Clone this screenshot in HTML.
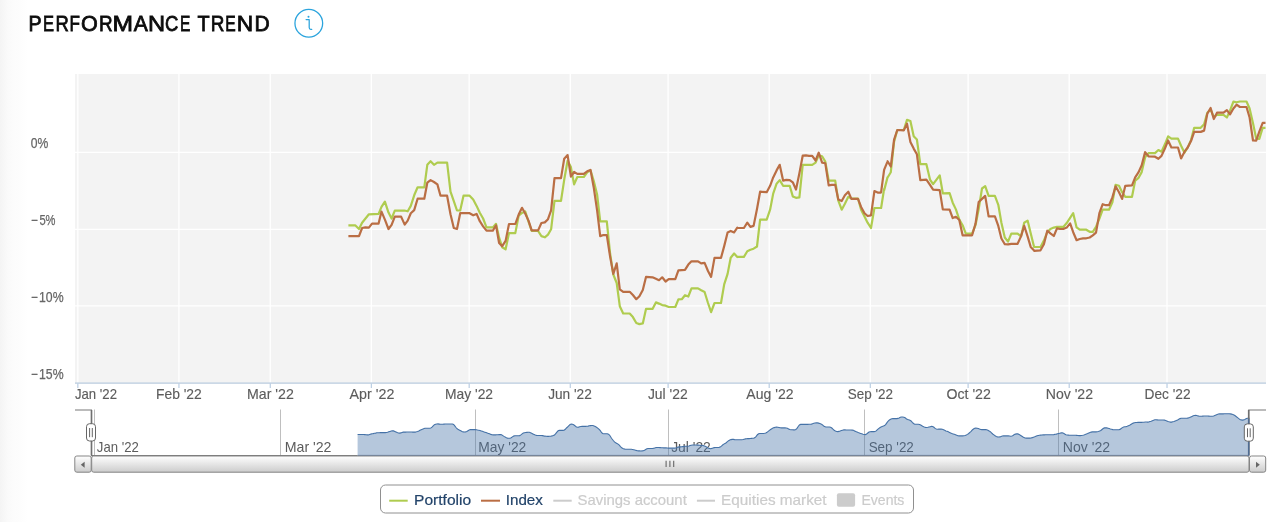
<!DOCTYPE html>
<html><head><meta charset="utf-8"><title>Performance trend</title>
<style>
html,body{margin:0;padding:0;background:#fff;}
body{width:1280px;height:522px;overflow:hidden;position:relative;font-family:"Liberation Sans",sans-serif;}
.strip{position:absolute;left:0;top:0;width:30px;height:522px;background:linear-gradient(to right,#f4f4f4 0,#f7f7f7 4px,#fafafa 8px,#fcfcfc 14px,#fdfdfd 20px,#fff 28px);}
h1{position:absolute;left:29px;top:9px;margin:0;font-size:22.5px;line-height:30px;font-weight:bold;color:#111;letter-spacing:-0.2px;white-space:nowrap;}
svg{position:absolute;left:0;top:0;will-change:transform;}
svg text{font-family:"Liberation Sans",sans-serif;}
</style></head><body>
<div class="strip"></div>
<svg width="1280" height="522" viewBox="0 0 1280 522">
<defs><clipPath id="pc"><rect x="75" y="74" width="1191" height="309"/></clipPath>
<linearGradient id="bg" x1="0" y1="0" x2="0" y2="1"><stop offset="0" stop-color="#fff"/><stop offset="1" stop-color="#ccc"/></linearGradient>
<linearGradient id="tr" x1="0" y1="0" x2="0" y2="1"><stop offset="0" stop-color="#eee"/><stop offset="1" stop-color="#fff"/></linearGradient>
</defs>
<g font-size="22" fill="#0c0c0c" stroke="#0c0c0c" stroke-width="0.8"><text x="28.49" y="31.4" textLength="13.10" lengthAdjust="spacingAndGlyphs">P</text><text x="42.96" y="31.4" textLength="11.00" lengthAdjust="spacingAndGlyphs">E</text><text x="55.49" y="31.4" textLength="13.32" lengthAdjust="spacingAndGlyphs">R</text><text x="69.41" y="31.4" textLength="10.42" lengthAdjust="spacingAndGlyphs">F</text><text x="80.96" y="31.4" textLength="16.77" lengthAdjust="spacingAndGlyphs">O</text><text x="98.90" y="31.4" textLength="13.62" lengthAdjust="spacingAndGlyphs">R</text><text x="112.43" y="31.4" textLength="20.55" lengthAdjust="spacingAndGlyphs">M</text><text x="133.71" y="31.4" textLength="14.08" lengthAdjust="spacingAndGlyphs">A</text><text x="147.91" y="31.4" textLength="17.07" lengthAdjust="spacingAndGlyphs">N</text><text x="165.11" y="31.4" textLength="13.34" lengthAdjust="spacingAndGlyphs">C</text><text x="179.98" y="31.4" textLength="10.34" lengthAdjust="spacingAndGlyphs">E</text><text x="197.61" y="31.4" textLength="12.10" lengthAdjust="spacingAndGlyphs">T</text><text x="210.70" y="31.4" textLength="13.62" lengthAdjust="spacingAndGlyphs">R</text><text x="225.16" y="31.4" textLength="10.46" lengthAdjust="spacingAndGlyphs">E</text><text x="236.78" y="31.4" textLength="16.42" lengthAdjust="spacingAndGlyphs">N</text><text x="254.42" y="31.4" textLength="15.24" lengthAdjust="spacingAndGlyphs">D</text></g>
<!-- info icon -->
<circle cx="308.8" cy="23.25" r="13.85" fill="#fff" stroke="#2ba4dd" stroke-width="1.3"/>
<path d="M306.1 19.5H309.2V27.6Q309.2 29.4 310.7 29.4H311.7" fill="none" stroke="#2ba4dd" stroke-width="1.25" stroke-linecap="round" stroke-linejoin="round"/>
<circle cx="308.5" cy="16.7" r="1.0" fill="#2ba4dd"/>
<!-- plot -->
<rect x="75" y="74" width="1191" height="309" fill="#f3f3f3"/>
<path d="M77.85 74V383" stroke="#fff" stroke-width="1.35"/><path d="M178.94 74V383" stroke="#fff" stroke-width="1.35"/><path d="M270.25 74V383" stroke="#fff" stroke-width="1.35"/><path d="M371.34 74V383" stroke="#fff" stroke-width="1.35"/><path d="M469.17 74V383" stroke="#fff" stroke-width="1.35"/><path d="M570.26 74V383" stroke="#fff" stroke-width="1.35"/><path d="M668.09 74V383" stroke="#fff" stroke-width="1.35"/><path d="M769.18 74V383" stroke="#fff" stroke-width="1.35"/><path d="M870.27 74V383" stroke="#fff" stroke-width="1.35"/><path d="M968.10 74V383" stroke="#fff" stroke-width="1.35"/><path d="M1069.19 74V383" stroke="#fff" stroke-width="1.35"/><path d="M1167.02 74V383" stroke="#fff" stroke-width="1.35"/>
<path d="M75 152.3H1266" stroke="#fff" stroke-width="1.3"/><path d="M75 229.3H1266" stroke="#fff" stroke-width="1.3"/><path d="M75 305.8H1266" stroke="#fff" stroke-width="1.3"/>
<path d="M75 383.1H1266" stroke="#cbd8e6" stroke-width="1.7"/>
<path d="M77.85 383.5V388" stroke="#b4c9e0" stroke-width="1.1"/><path d="M178.94 383.5V388" stroke="#b4c9e0" stroke-width="1.1"/><path d="M270.25 383.5V388" stroke="#b4c9e0" stroke-width="1.1"/><path d="M371.34 383.5V388" stroke="#b4c9e0" stroke-width="1.1"/><path d="M469.17 383.5V388" stroke="#b4c9e0" stroke-width="1.1"/><path d="M570.26 383.5V388" stroke="#b4c9e0" stroke-width="1.1"/><path d="M668.09 383.5V388" stroke="#b4c9e0" stroke-width="1.1"/><path d="M769.18 383.5V388" stroke="#b4c9e0" stroke-width="1.1"/><path d="M870.27 383.5V388" stroke="#b4c9e0" stroke-width="1.1"/><path d="M968.10 383.5V388" stroke="#b4c9e0" stroke-width="1.1"/><path d="M1069.19 383.5V388" stroke="#b4c9e0" stroke-width="1.1"/><path d="M1167.02 383.5V388" stroke="#b4c9e0" stroke-width="1.1"/>
<g font-size="14" fill="#666" stroke="#666" stroke-width="0.25"><text x="30.75" y="148.2" textLength="17.55" lengthAdjust="spacingAndGlyphs">0%</text><text x="30.9" y="225.2" textLength="6.8" lengthAdjust="spacingAndGlyphs">−</text><text x="39.40" y="225.2" textLength="16.10" lengthAdjust="spacingAndGlyphs">5%</text><text x="30.9" y="302.3" textLength="6.8" lengthAdjust="spacingAndGlyphs">−</text><text x="39.00" y="302.3" textLength="24.55" lengthAdjust="spacingAndGlyphs">10%</text><text x="30.9" y="379.2" textLength="6.8" lengthAdjust="spacingAndGlyphs">−</text><text x="39.00" y="379.2" textLength="24.55" lengthAdjust="spacingAndGlyphs">15%</text></g>
<g font-size="14.8" fill="#5c5c5c" stroke="#5c5c5c" stroke-width="0.15"><text x="74.94" y="399.0" textLength="42.07" lengthAdjust="spacingAndGlyphs">Jan '22</text><text x="156.01" y="399.0" textLength="45.78" lengthAdjust="spacingAndGlyphs">Feb '22</text><text x="246.99" y="399.0" textLength="46.83" lengthAdjust="spacingAndGlyphs">Mar '22</text><text x="349.62" y="399.0" textLength="44.69" lengthAdjust="spacingAndGlyphs">Apr '22</text><text x="445.01" y="399.0" textLength="48.03" lengthAdjust="spacingAndGlyphs">May '22</text><text x="548.19" y="399.0" textLength="43.60" lengthAdjust="spacingAndGlyphs">Jun '22</text><text x="647.93" y="399.0" textLength="39.72" lengthAdjust="spacingAndGlyphs">Jul '22</text><text x="746.37" y="399.0" textLength="47.18" lengthAdjust="spacingAndGlyphs">Aug '22</text><text x="847.79" y="399.0" textLength="45.24" lengthAdjust="spacingAndGlyphs">Sep '22</text><text x="946.48" y="399.0" textLength="44.33" lengthAdjust="spacingAndGlyphs">Oct '22</text><text x="1045.74" y="399.0" textLength="47.31" lengthAdjust="spacingAndGlyphs">Nov '22</text><text x="1144.53" y="399.0" textLength="46.01" lengthAdjust="spacingAndGlyphs">Dec '22</text></g>
<g clip-path="url(#pc)"><path d="M348.4 225.3 L355.2 225.3 L359.0 229.0 L362.1 222.7 L368.9 214.3 L378.6 213.9 L381.5 206.9 L384.9 201.6 L388.5 212.6 L391.6 218.5 L394.8 210.7 L404.3 210.5 L407.7 211.3 L410.8 205.9 L414.2 195.3 L417.6 187.3 L424.3 187.3 L427.3 164.8 L430.6 161.2 L434.0 164.8 L437.4 162.6 L447.1 162.6 L450.5 191.7 L453.8 201.2 L457.0 210.5 L460.2 210.5 L463.5 195.7 L469.6 195.7 L473.2 199.5 L476.6 205.9 L479.8 212.8 L483.1 218.5 L486.5 227.4 L492.8 227.4 L496.0 223.8 L499.1 237.7 L502.2 247.2 L505.6 249.3 L509.0 233.1 L515.3 233.1 L518.7 215.6 L522.0 212.9 L525.2 211.4 L528.6 221.9 L531.7 231.0 L538.1 231.0 L541.4 236.1 L544.8 237.3 L548.0 234.6 L551.1 229.3 L554.5 200.9 L561.0 200.9 L564.2 179.8 L567.6 160.8 L570.9 167.1 L574.1 184.4 L577.3 177.0 L583.8 177.0 L587.2 172.4 L590.5 170.3 L593.7 180.8 L597.1 194.5 L600.2 221.3 L606.8 221.3 L610.1 253.5 L613.3 274.5 L616.7 283.0 L619.8 306.2 L623.2 313.5 L629.7 313.5 L632.9 317.1 L636.3 323.0 L639.4 324.1 L642.8 323.4 L646.0 308.9 L652.5 308.9 L655.9 302.4 L659.0 303.6 L662.2 305.1 L665.6 305.7 L668.7 307.0 L675.3 307.0 L678.4 299.4 L681.8 299.2 L685.0 295.2 L688.3 296.5 L691.5 288.4 L698.0 288.4 L701.2 290.3 L704.6 292.0 L708.0 303.0 L711.1 312.1 L714.5 303.0 L721.0 303.0 L724.2 284.4 L727.6 273.9 L730.7 257.7 L734.1 253.5 L737.3 257.0 L737.4 256.9 L743.9 256.9 L747.3 251.2 L750.4 249.7 L753.6 248.7 L757.0 246.5 L760.1 219.6 L766.7 219.6 L770.1 209.7 L773.2 193.6 L776.6 183.7 L779.7 180.1 L783.1 185.8 L789.7 185.8 L792.8 196.4 L796.0 197.8 L799.4 197.4 L802.7 164.8 L812.2 164.8 L815.6 162.6 L818.7 155.3 L822.1 156.3 L825.3 161.6 L828.7 180.6 L835.2 180.6 L838.3 200.6 L841.7 209.7 L844.9 203.8 L848.3 196.8 L851.4 198.5 L858.0 198.5 L861.1 209.7 L864.5 216.4 L867.6 222.7 L871.0 228.0 L874.4 208.0 L880.9 208.0 L881.1 208.0 L884.1 189.0 L884.2 190.1 L887.5 177.4 L887.6 177.5 L890.8 172.2 L894.1 141.6 L897.3 130.0 L903.8 130.0 L907.0 119.9 L910.4 121.0 L913.7 136.3 L916.9 139.5 L920.3 164.2 L926.4 164.2 L930.0 179.6 L933.1 184.2 L936.5 179.6 L939.7 175.3 L942.8 193.3 L949.6 193.2 L952.7 202.7 L955.9 209.4 L959.3 219.5 L962.6 225.2 L965.8 233.7 L972.1 233.7 L975.5 225.2 L978.7 209.0 L982.0 188.5 L985.2 186.2 L988.6 195.9 L994.9 195.9 L998.3 204.8 L1001.4 222.7 L1004.8 237.5 L1008.0 241.7 L1011.3 233.7 L1017.6 233.7 L1021.0 236.4 L1024.2 222.7 L1027.6 220.6 L1030.7 233.2 L1034.1 246.9 L1034.2 247.0 L1040.5 247.0 L1043.9 240.6 L1047.3 232.2 L1050.4 229.0 L1053.8 227.6 L1057.0 226.9 L1063.3 226.9 L1066.7 223.1 L1070.1 217.9 L1073.2 213.2 L1076.6 227.4 L1079.7 229.7 L1086.3 229.7 L1089.7 231.8 L1092.8 231.8 L1096.0 226.9 L1099.4 218.5 L1102.7 209.7 L1109.0 209.7 L1112.4 202.3 L1115.6 184.8 L1119.0 185.8 L1122.1 192.2 L1125.3 196.8 L1132.0 196.8 L1135.2 180.6 L1138.6 177.8 L1141.7 172.1 L1145.1 157.4 L1148.5 153.1 L1155.0 153.1 L1158.4 150.0 L1161.5 151.7 L1164.9 144.3 L1168.1 136.3 L1171.4 138.6 L1178.0 138.6 L1181.1 145.8 L1184.5 152.7 L1187.7 147.5 L1191.0 140.1 L1194.2 127.8 L1200.7 127.8 L1204.1 124.3 L1207.3 112.7 L1210.6 109.5 L1213.8 116.9 L1217.0 114.8 L1223.5 114.8 L1226.9 117.5 L1230.0 110.6 L1233.4 101.7 L1236.6 102.3 L1239.9 101.5 L1246.5 101.5 L1249.6 108.5 L1253.0 123.2 L1256.2 138.6 L1259.3 139.0 L1262.7 127.8 L1265.5 127.8" fill="none" stroke="#afcc4f" stroke-width="2.2" stroke-linejoin="round" stroke-linecap="butt"/>
<path d="M348.4 236.2 L359.0 236.2 L362.1 228.0 L365.3 227.4 L368.9 227.6 L372.0 223.6 L378.6 223.6 L381.5 211.6 L384.9 219.6 L388.5 229.0 L391.6 224.8 L394.8 216.6 L401.1 216.6 L404.7 224.6 L407.7 220.6 L410.8 213.2 L414.2 210.1 L417.6 198.7 L424.3 198.7 L427.3 182.7 L430.6 180.1 L434.0 182.0 L437.4 184.4 L440.5 195.7 L447.1 195.7 L450.5 214.3 L453.8 228.0 L457.0 229.0 L460.2 213.2 L469.6 213.2 L473.2 215.3 L476.6 213.9 L479.8 221.2 L483.1 226.3 L486.5 230.7 L492.8 230.7 L496.0 225.3 L499.1 243.0 L502.2 246.2 L505.6 240.9 L509.0 224.0 L515.3 224.0 L518.7 214.6 L522.0 207.8 L525.2 213.5 L528.6 220.9 L531.7 230.4 L538.1 230.4 L541.4 223.0 L544.8 222.4 L548.0 219.2 L551.1 210.3 L554.5 178.1 L561.0 178.1 L564.2 158.7 L567.6 155.1 L570.9 176.6 L574.1 172.0 L577.3 173.9 L583.8 173.9 L587.2 171.3 L590.5 169.9 L593.7 187.2 L597.1 210.3 L600.2 236.1 L603.4 235.0 L606.8 235.2 L610.1 256.6 L613.3 273.9 L616.7 263.4 L619.8 289.3 L623.2 291.8 L629.7 291.8 L632.9 295.0 L636.3 299.2 L639.4 296.2 L642.8 289.9 L646.0 276.9 L652.5 277.3 L655.9 278.8 L659.0 280.2 L662.2 277.3 L665.6 281.5 L668.7 279.2 L675.3 279.2 L678.4 270.3 L685.0 269.9 L688.3 264.6 L691.5 261.3 L698.0 261.3 L701.2 263.4 L704.6 262.9 L708.0 271.0 L711.1 276.9 L714.5 257.9 L721.0 257.9 L724.2 246.1 L727.6 232.4 L730.7 230.9 L734.1 232.4 L737.3 227.7 L737.4 228.0 L743.9 228.0 L747.3 222.7 L750.4 226.9 L753.6 225.9 L757.0 209.0 L760.1 191.7 L766.7 192.2 L770.1 185.8 L773.2 177.4 L776.6 170.4 L779.7 164.8 L783.1 180.6 L786.3 179.9 L789.7 180.1 L792.8 182.3 L796.0 189.6 L799.4 173.2 L802.7 155.7 L805.9 155.3 L809.0 155.9 L812.2 155.9 L815.6 160.5 L818.7 152.7 L822.1 162.6 L825.3 163.3 L828.7 185.4 L831.8 184.8 L835.2 184.8 L838.3 199.5 L841.7 201.0 L844.9 195.3 L848.3 191.7 L851.4 198.9 L858.0 198.9 L861.1 206.9 L864.5 213.2 L867.6 216.0 L871.0 215.3 L874.4 191.1 L877.6 192.6 L880.9 192.6 L881.1 192.2 L884.1 170.0 L884.2 169.7 L887.5 161.6 L887.6 161.2 L890.8 166.5 L894.1 139.5 L897.3 130.0 L903.8 130.4 L907.0 123.7 L910.4 142.0 L913.7 148.6 L916.9 154.3 L920.3 180.2 L923.4 179.8 L926.4 179.6 L930.0 184.8 L933.1 189.7 L939.7 190.1 L942.8 209.4 L949.6 209.6 L952.7 218.1 L955.9 216.8 L959.3 220.0 L962.6 235.3 L972.1 235.3 L975.5 223.8 L978.7 202.0 L982.0 198.9 L985.2 195.9 L988.6 216.4 L994.9 216.4 L998.3 225.9 L1001.4 238.5 L1004.8 244.2 L1008.0 244.4 L1011.3 243.8 L1017.6 243.8 L1021.0 236.4 L1024.2 225.9 L1027.6 236.4 L1030.7 246.9 L1034.1 250.5 L1034.2 250.8 L1040.5 250.3 L1043.9 244.2 L1047.3 230.7 L1050.4 233.3 L1053.8 236.0 L1057.0 228.4 L1060.1 229.0 L1063.3 229.0 L1066.7 227.6 L1070.1 223.4 L1073.2 232.2 L1076.6 240.2 L1079.7 239.0 L1083.1 238.3 L1086.3 238.3 L1089.7 237.5 L1092.8 235.4 L1096.0 232.6 L1099.4 213.2 L1102.7 204.2 L1105.9 205.2 L1109.0 205.2 L1112.4 197.4 L1115.6 186.3 L1119.0 192.2 L1122.1 198.9 L1125.3 185.8 L1132.0 185.4 L1135.2 177.4 L1138.6 172.1 L1141.7 165.2 L1145.1 152.1 L1148.5 156.3 L1155.0 156.7 L1158.4 158.8 L1161.5 155.9 L1164.9 148.5 L1168.1 140.5 L1171.4 147.5 L1178.0 147.5 L1181.1 158.4 L1184.5 151.7 L1187.7 147.5 L1191.0 141.1 L1194.2 131.9 L1200.7 131.9 L1204.1 130.6 L1207.3 113.7 L1210.6 108.0 L1213.8 119.0 L1217.0 112.7 L1223.5 112.7 L1226.9 110.1 L1230.0 114.4 L1233.4 108.5 L1236.6 104.7 L1239.9 107.0 L1246.5 107.0 L1249.6 117.5 L1253.0 140.5 L1256.2 140.7 L1259.3 131.6 L1262.7 122.8 L1265.5 122.8" fill="none" stroke="#ba6e44" stroke-width="2.2" stroke-linejoin="round" stroke-linecap="butt"/></g>
<!-- navigator -->
<path d="M94.5 409.5V455.5" stroke="#000" stroke-opacity="0.25" stroke-width="1"/><path d="M280.5 409.5V455.5" stroke="#000" stroke-opacity="0.25" stroke-width="1"/><path d="M475.5 409.5V455.5" stroke="#000" stroke-opacity="0.25" stroke-width="1"/><path d="M668.5 409.5V455.5" stroke="#000" stroke-opacity="0.25" stroke-width="1"/><path d="M864.5 409.5V455.5" stroke="#000" stroke-opacity="0.25" stroke-width="1"/><path d="M1058.5 409.5V455.5" stroke="#000" stroke-opacity="0.25" stroke-width="1"/>
<g font-size="14.6" fill="#5c5c5c"><text x="96.84" y="452.1" textLength="42.07" lengthAdjust="spacingAndGlyphs">Jan '22</text><text x="284.69" y="452.1" textLength="46.83" lengthAdjust="spacingAndGlyphs">Mar '22</text><text x="478.26" y="452.1" textLength="48.03" lengthAdjust="spacingAndGlyphs">May '22</text><text x="671.13" y="452.1" textLength="39.72" lengthAdjust="spacingAndGlyphs">Jul '22</text><text x="868.64" y="452.1" textLength="45.24" lengthAdjust="spacingAndGlyphs">Sep '22</text><text x="1062.79" y="452.1" textLength="47.31" lengthAdjust="spacingAndGlyphs">Nov '22</text></g>
<path d="M357.6 434.5 L358.8 434.5 L360.0 434.5 L361.2 434.5 L362.4 434.5 L363.6 434.5 L364.8 434.6 L366.0 434.8 L367.2 434.9 L368.4 434.9 L369.6 434.5 L370.8 434.1 L372.0 433.8 L373.2 433.6 L374.4 433.3 L375.6 433.1 L376.8 432.8 L378.0 432.7 L379.2 432.7 L380.4 432.6 L381.6 432.6 L382.8 432.6 L384.0 432.6 L385.2 432.6 L386.4 432.5 L387.6 432.3 L388.8 431.8 L390.0 431.4 L391.2 431.0 L392.4 430.8 L393.6 430.9 L394.8 431.4 L396.0 432.0 L397.2 432.6 L398.4 433.0 L399.6 433.1 L400.8 432.9 L402.0 432.4 L403.2 432.1 L404.4 432.1 L405.6 432.1 L406.8 432.0 L408.0 432.0 L409.2 432.0 L410.4 432.0 L411.6 432.0 L412.8 432.1 L414.0 432.1 L415.2 432.1 L416.4 431.8 L417.6 431.4 L418.8 430.9 L420.0 430.3 L421.2 429.7 L422.4 429.2 L423.6 428.7 L424.8 428.3 L426.0 428.2 L427.2 428.2 L428.4 428.2 L429.6 428.2 L430.8 428.0 L432.0 427.2 L433.2 425.8 L434.4 424.7 L435.6 424.2 L436.8 424.0 L438.0 423.9 L439.2 424.1 L440.4 424.3 L441.6 424.3 L442.8 424.2 L444.0 424.1 L445.2 424.0 L446.4 424.0 L447.6 424.0 L448.8 424.0 L450.0 424.0 L451.2 424.0 L452.4 424.0 L453.6 424.5 L454.8 425.9 L456.0 427.5 L457.2 428.8 L458.4 429.6 L459.6 430.2 L460.8 430.8 L462.0 431.4 L463.2 431.9 L464.4 432.0 L465.6 431.9 L466.8 431.5 L468.0 430.7 L469.2 430.0 L470.4 429.6 L471.6 429.6 L472.8 429.6 L474.0 429.6 L475.2 429.6 L476.4 429.7 L477.6 430.0 L478.8 430.2 L480.0 430.5 L481.2 430.9 L482.4 431.3 L483.6 431.8 L484.8 432.2 L486.0 432.6 L487.2 433.0 L488.4 433.4 L489.6 433.8 L490.8 434.4 L492.0 434.7 L493.2 434.9 L494.4 434.9 L495.6 434.9 L496.8 434.8 L498.0 434.8 L499.2 434.6 L500.4 434.5 L501.6 434.8 L502.8 435.6 L504.0 436.4 L505.2 437.1 L506.4 437.7 L507.6 438.1 L508.8 438.3 L510.0 438.3 L511.2 437.8 L512.4 436.9 L513.6 436.1 L514.8 435.8 L516.0 435.8 L517.3 435.8 L518.5 435.8 L519.7 435.6 L520.9 434.9 L522.1 433.9 L523.3 433.1 L524.5 432.7 L525.7 432.5 L526.9 432.4 L528.1 432.3 L529.3 432.3 L530.5 432.7 L531.7 433.3 L532.9 433.9 L534.1 434.5 L535.3 435.1 L536.5 435.4 L537.7 435.5 L538.9 435.5 L540.1 435.5 L541.3 435.5 L542.5 435.6 L543.7 435.9 L544.9 436.1 L546.1 436.3 L547.3 436.4 L548.5 436.4 L549.7 436.3 L550.9 436.2 L552.1 435.9 L553.3 435.6 L554.5 435.0 L555.7 433.7 L556.9 432.1 L558.1 430.8 L559.3 430.4 L560.5 430.4 L561.7 430.4 L562.9 430.4 L564.1 430.2 L565.3 429.3 L566.5 428.0 L567.7 426.8 L568.9 425.6 L570.1 424.6 L571.3 424.1 L572.5 424.3 L573.7 424.8 L574.9 425.7 L576.1 426.7 L577.3 427.3 L578.5 427.1 L579.7 426.7 L580.9 426.5 L582.1 426.4 L583.3 426.4 L584.5 426.4 L585.7 426.4 L586.9 426.3 L588.1 426.1 L589.3 425.8 L590.5 425.6 L591.7 425.5 L592.9 425.5 L594.1 425.9 L595.3 426.6 L596.5 427.3 L597.7 428.1 L598.9 429.1 L600.1 430.4 L601.3 432.1 L602.5 433.4 L603.7 433.8 L604.9 433.8 L606.1 433.8 L607.3 433.8 L608.5 434.2 L609.7 435.3 L610.9 437.2 L612.1 439.0 L613.3 440.5 L614.5 441.8 L615.7 442.8 L616.9 443.4 L618.1 444.1 L619.3 445.2 L620.5 446.6 L621.7 447.8 L622.9 448.5 L624.1 448.9 L625.3 449.2 L626.5 449.2 L627.7 449.2 L628.9 449.2 L630.1 449.2 L631.3 449.3 L632.5 449.5 L633.7 449.7 L634.9 450.0 L636.1 450.4 L637.3 450.7 L638.5 450.9 L639.7 450.9 L640.9 451.0 L642.1 450.9 L643.3 450.8 L644.5 450.3 L645.7 449.5 L646.9 448.8 L648.1 448.5 L649.3 448.5 L650.5 448.5 L651.7 448.5 L652.9 448.4 L654.1 448.2 L655.3 447.8 L656.5 447.5 L657.7 447.5 L658.9 447.5 L660.1 447.6 L661.3 447.7 L662.5 447.8 L663.7 447.9 L664.9 447.9 L666.1 447.9 L667.3 448.0 L668.5 448.1 L669.7 448.1 L670.9 448.1 L672.1 448.1 L673.3 448.1 L674.5 448.1 L675.7 448.0 L676.9 447.6 L678.1 447.1 L679.3 446.9 L680.5 446.9 L681.7 446.8 L682.9 446.6 L684.1 446.4 L685.3 446.3 L686.5 446.3 L687.7 446.3 L688.9 446.0 L690.1 445.5 L691.3 445.2 L692.5 445.0 L693.7 445.0 L694.9 445.0 L696.1 445.0 L697.3 445.1 L698.5 445.1 L699.7 445.3 L700.9 445.4 L702.1 445.5 L703.3 445.6 L704.5 446.0 L705.7 446.6 L707.0 447.2 L708.2 447.9 L709.4 448.4 L710.6 448.7 L711.8 448.4 L713.0 447.9 L714.2 447.6 L715.4 447.5 L716.6 447.5 L717.8 447.5 L719.0 447.4 L720.2 447.1 L721.4 446.1 L722.6 445.0 L723.8 444.1 L725.0 443.4 L726.2 442.7 L727.4 441.7 L728.6 440.7 L729.8 440.0 L731.0 439.6 L732.2 439.4 L733.4 439.4 L734.6 439.6 L735.8 439.7 L737.0 439.8 L738.2 439.8 L739.4 439.8 L740.6 439.8 L741.8 439.7 L743.0 439.5 L744.2 439.2 L745.4 438.9 L746.6 438.8 L747.8 438.6 L749.0 438.6 L750.2 438.5 L751.4 438.4 L752.6 438.3 L753.8 438.2 L755.0 437.6 L756.2 436.3 L757.4 434.7 L758.6 433.8 L759.8 433.5 L761.0 433.5 L762.2 433.5 L763.4 433.5 L764.6 433.3 L765.8 432.9 L767.0 432.2 L768.2 431.4 L769.4 430.4 L770.6 429.5 L771.8 428.7 L773.0 428.1 L774.2 427.6 L775.4 427.3 L776.6 427.1 L777.8 427.2 L779.0 427.5 L780.2 427.8 L781.4 427.9 L782.6 427.9 L783.8 427.9 L785.0 427.9 L786.2 428.0 L787.4 428.3 L788.6 428.9 L789.8 429.5 L791.0 429.8 L792.2 429.8 L793.4 429.9 L794.6 429.9 L795.8 429.5 L797.0 428.4 L798.2 426.5 L799.4 425.0 L800.6 424.4 L801.8 424.4 L803.0 424.4 L804.2 424.4 L805.4 424.4 L806.6 424.4 L807.8 424.4 L809.0 424.3 L810.2 424.2 L811.4 424.1 L812.6 423.7 L813.8 423.3 L815.0 423.0 L816.2 422.9 L817.4 422.9 L818.6 423.1 L819.8 423.4 L821.0 423.9 L822.2 424.7 L823.4 425.7 L824.6 426.6 L825.8 427.0 L827.0 427.0 L828.2 427.0 L829.4 427.0 L830.6 427.2 L831.8 428.0 L833.0 429.2 L834.2 430.3 L835.4 431.0 L836.6 431.5 L837.8 431.6 L839.0 431.4 L840.2 431.0 L841.4 430.6 L842.6 430.2 L843.8 429.9 L845.0 429.9 L846.2 430.0 L847.4 430.0 L848.6 430.0 L849.8 430.0 L851.0 430.0 L852.2 430.1 L853.4 430.3 L854.6 430.9 L855.8 431.6 L857.0 432.1 L858.2 432.6 L859.4 433.0 L860.6 433.4 L861.8 433.8 L863.0 434.2 L864.2 434.5 L865.4 434.6 L866.6 434.1 L867.8 433.0 L869.0 432.0 L870.2 431.7 L871.4 431.6 L872.6 431.6 L873.8 431.6 L875.0 431.5 L876.2 430.9 L877.4 429.7 L878.6 428.6 L879.8 427.8 L881.0 427.1 L882.2 426.5 L883.4 426.1 L884.6 425.6 L885.8 424.4 L887.0 422.6 L888.2 421.0 L889.4 419.9 L890.6 419.2 L891.8 418.7 L893.0 418.6 L894.2 418.6 L895.4 418.6 L896.7 418.6 L897.9 418.4 L899.1 417.9 L900.3 417.3 L901.5 417.0 L902.7 417.0 L903.9 417.2 L905.1 417.8 L906.3 418.7 L907.5 419.5 L908.7 419.8 L909.9 420.2 L911.1 421.0 L912.3 422.3 L913.5 423.5 L914.7 424.2 L915.9 424.3 L917.1 424.3 L918.3 424.3 L919.5 424.5 L920.7 425.0 L921.9 425.8 L923.1 426.6 L924.3 427.1 L925.5 427.4 L926.7 427.5 L927.9 427.3 L929.1 427.0 L930.3 426.7 L931.5 426.4 L932.7 426.5 L933.9 427.3 L935.1 428.4 L936.3 429.0 L937.5 429.2 L938.7 429.1 L939.9 429.1 L941.1 429.1 L942.3 429.3 L943.5 429.7 L944.7 430.3 L945.9 430.9 L947.1 431.3 L948.3 431.8 L949.5 432.4 L950.7 433.0 L951.9 433.5 L953.1 433.9 L954.3 434.3 L955.5 434.7 L956.7 435.2 L957.9 435.7 L959.1 435.9 L960.3 435.9 L961.5 435.9 L962.7 435.9 L963.9 435.8 L965.1 435.5 L966.3 435.0 L967.5 434.4 L968.7 433.5 L969.9 432.4 L971.1 431.3 L972.3 430.0 L973.5 429.0 L974.7 428.3 L975.9 428.1 L977.1 428.2 L978.3 428.6 L979.5 429.1 L980.7 429.5 L981.9 429.6 L983.1 429.6 L984.3 429.6 L985.5 429.6 L986.7 429.8 L987.9 430.3 L989.1 430.9 L990.3 431.7 L991.5 432.8 L992.7 434.0 L993.9 434.9 L995.1 435.8 L996.3 436.5 L997.5 436.9 L998.7 437.0 L999.9 436.9 L1001.1 436.4 L1002.3 436.0 L1003.5 435.9 L1004.7 435.9 L1005.9 435.9 L1007.1 435.9 L1008.3 435.9 L1009.5 436.0 L1010.7 436.2 L1011.9 436.0 L1013.1 435.4 L1014.3 434.6 L1015.5 434.1 L1016.7 433.9 L1017.9 433.9 L1019.1 434.4 L1020.3 435.2 L1021.5 436.0 L1022.7 436.8 L1023.9 437.6 L1025.1 438.0 L1026.3 438.1 L1027.5 438.1 L1028.7 438.1 L1029.9 438.1 L1031.1 437.9 L1032.3 437.6 L1033.5 437.2 L1034.7 436.8 L1035.9 436.3 L1037.1 435.8 L1038.3 435.5 L1039.5 435.3 L1040.7 435.1 L1041.9 435.0 L1043.1 434.9 L1044.3 434.9 L1045.5 434.8 L1046.7 434.8 L1047.9 434.8 L1049.1 434.8 L1050.3 434.8 L1051.5 434.8 L1052.7 434.7 L1053.9 434.6 L1055.1 434.3 L1056.3 434.1 L1057.5 433.8 L1058.7 433.5 L1059.9 433.2 L1061.1 432.9 L1062.3 432.8 L1063.5 433.2 L1064.7 434.0 L1065.9 434.7 L1067.1 435.0 L1068.3 435.1 L1069.5 435.2 L1070.7 435.2 L1071.9 435.2 L1073.1 435.2 L1074.3 435.2 L1075.5 435.3 L1076.7 435.4 L1077.9 435.5 L1079.1 435.6 L1080.3 435.6 L1081.5 435.5 L1082.7 435.3 L1083.9 435.0 L1085.1 434.6 L1086.4 434.1 L1087.6 433.6 L1088.8 433.0 L1090.0 432.5 L1091.2 432.1 L1092.4 431.9 L1093.6 431.9 L1094.8 431.9 L1096.0 431.9 L1097.2 431.8 L1098.4 431.5 L1099.6 431.1 L1100.8 430.5 L1102.0 429.5 L1103.2 428.5 L1104.4 427.9 L1105.6 427.8 L1106.8 427.9 L1108.0 428.2 L1109.2 428.6 L1110.4 429.0 L1111.6 429.3 L1112.8 429.6 L1114.0 429.7 L1115.2 429.7 L1116.4 429.7 L1117.6 429.7 L1118.8 429.7 L1120.0 429.4 L1121.2 428.5 L1122.4 427.6 L1123.6 427.0 L1124.8 426.8 L1126.0 426.6 L1127.2 426.3 L1128.4 425.8 L1129.6 425.3 L1130.8 424.5 L1132.0 423.7 L1133.2 423.1 L1134.4 422.8 L1135.6 422.5 L1136.8 422.5 L1138.0 422.4 L1139.2 422.4 L1140.4 422.4 L1141.6 422.4 L1142.8 422.3 L1144.0 422.2 L1145.2 422.0 L1146.4 422.0 L1147.6 422.1 L1148.8 422.0 L1150.0 421.6 L1151.2 421.2 L1152.4 420.7 L1153.6 420.2 L1154.8 419.8 L1156.0 419.8 L1157.2 419.9 L1158.4 420.0 L1159.6 420.0 L1160.8 420.0 L1162.0 420.0 L1163.2 420.0 L1164.4 420.1 L1165.6 420.5 L1166.8 420.9 L1168.0 421.4 L1169.2 421.8 L1170.4 422.1 L1171.6 422.1 L1172.8 421.8 L1174.0 421.5 L1175.2 421.0 L1176.4 420.5 L1177.6 419.9 L1178.8 419.2 L1180.0 418.6 L1181.2 418.3 L1182.4 418.2 L1183.6 418.2 L1184.8 418.2 L1186.0 418.2 L1187.2 418.1 L1188.4 417.9 L1189.6 417.6 L1190.8 417.0 L1192.0 416.4 L1193.2 415.8 L1194.4 415.5 L1195.6 415.3 L1196.8 415.5 L1198.0 415.9 L1199.2 416.2 L1200.4 416.3 L1201.6 416.2 L1202.8 416.1 L1204.0 416.0 L1205.2 416.0 L1206.4 416.0 L1207.6 416.0 L1208.8 416.1 L1210.0 416.2 L1211.2 416.3 L1212.4 416.3 L1213.6 415.9 L1214.8 415.4 L1216.0 414.9 L1217.2 414.4 L1218.4 414.0 L1219.6 413.9 L1220.8 413.9 L1222.0 413.9 L1223.2 413.9 L1224.4 413.8 L1225.6 413.8 L1226.8 413.8 L1228.0 413.8 L1229.2 413.8 L1230.4 413.9 L1231.6 414.1 L1232.8 414.5 L1234.0 415.0 L1235.2 415.8 L1236.4 416.7 L1237.6 417.6 L1238.8 418.6 L1240.0 419.4 L1241.2 419.9 L1242.4 420.1 L1243.6 419.9 L1244.8 419.4 L1246.0 418.8 L1247.2 418.3 L1248.4 418.2 L1249.6 418.2 L1249.6 455.5 L357.6 455.5 Z" fill="#4572a7" fill-opacity="0.4"/>
<path d="M357.6 434.5 L358.8 434.5 L360.0 434.5 L361.2 434.5 L362.4 434.5 L363.6 434.5 L364.8 434.6 L366.0 434.8 L367.2 434.9 L368.4 434.9 L369.6 434.5 L370.8 434.1 L372.0 433.8 L373.2 433.6 L374.4 433.3 L375.6 433.1 L376.8 432.8 L378.0 432.7 L379.2 432.7 L380.4 432.6 L381.6 432.6 L382.8 432.6 L384.0 432.6 L385.2 432.6 L386.4 432.5 L387.6 432.3 L388.8 431.8 L390.0 431.4 L391.2 431.0 L392.4 430.8 L393.6 430.9 L394.8 431.4 L396.0 432.0 L397.2 432.6 L398.4 433.0 L399.6 433.1 L400.8 432.9 L402.0 432.4 L403.2 432.1 L404.4 432.1 L405.6 432.1 L406.8 432.0 L408.0 432.0 L409.2 432.0 L410.4 432.0 L411.6 432.0 L412.8 432.1 L414.0 432.1 L415.2 432.1 L416.4 431.8 L417.6 431.4 L418.8 430.9 L420.0 430.3 L421.2 429.7 L422.4 429.2 L423.6 428.7 L424.8 428.3 L426.0 428.2 L427.2 428.2 L428.4 428.2 L429.6 428.2 L430.8 428.0 L432.0 427.2 L433.2 425.8 L434.4 424.7 L435.6 424.2 L436.8 424.0 L438.0 423.9 L439.2 424.1 L440.4 424.3 L441.6 424.3 L442.8 424.2 L444.0 424.1 L445.2 424.0 L446.4 424.0 L447.6 424.0 L448.8 424.0 L450.0 424.0 L451.2 424.0 L452.4 424.0 L453.6 424.5 L454.8 425.9 L456.0 427.5 L457.2 428.8 L458.4 429.6 L459.6 430.2 L460.8 430.8 L462.0 431.4 L463.2 431.9 L464.4 432.0 L465.6 431.9 L466.8 431.5 L468.0 430.7 L469.2 430.0 L470.4 429.6 L471.6 429.6 L472.8 429.6 L474.0 429.6 L475.2 429.6 L476.4 429.7 L477.6 430.0 L478.8 430.2 L480.0 430.5 L481.2 430.9 L482.4 431.3 L483.6 431.8 L484.8 432.2 L486.0 432.6 L487.2 433.0 L488.4 433.4 L489.6 433.8 L490.8 434.4 L492.0 434.7 L493.2 434.9 L494.4 434.9 L495.6 434.9 L496.8 434.8 L498.0 434.8 L499.2 434.6 L500.4 434.5 L501.6 434.8 L502.8 435.6 L504.0 436.4 L505.2 437.1 L506.4 437.7 L507.6 438.1 L508.8 438.3 L510.0 438.3 L511.2 437.8 L512.4 436.9 L513.6 436.1 L514.8 435.8 L516.0 435.8 L517.3 435.8 L518.5 435.8 L519.7 435.6 L520.9 434.9 L522.1 433.9 L523.3 433.1 L524.5 432.7 L525.7 432.5 L526.9 432.4 L528.1 432.3 L529.3 432.3 L530.5 432.7 L531.7 433.3 L532.9 433.9 L534.1 434.5 L535.3 435.1 L536.5 435.4 L537.7 435.5 L538.9 435.5 L540.1 435.5 L541.3 435.5 L542.5 435.6 L543.7 435.9 L544.9 436.1 L546.1 436.3 L547.3 436.4 L548.5 436.4 L549.7 436.3 L550.9 436.2 L552.1 435.9 L553.3 435.6 L554.5 435.0 L555.7 433.7 L556.9 432.1 L558.1 430.8 L559.3 430.4 L560.5 430.4 L561.7 430.4 L562.9 430.4 L564.1 430.2 L565.3 429.3 L566.5 428.0 L567.7 426.8 L568.9 425.6 L570.1 424.6 L571.3 424.1 L572.5 424.3 L573.7 424.8 L574.9 425.7 L576.1 426.7 L577.3 427.3 L578.5 427.1 L579.7 426.7 L580.9 426.5 L582.1 426.4 L583.3 426.4 L584.5 426.4 L585.7 426.4 L586.9 426.3 L588.1 426.1 L589.3 425.8 L590.5 425.6 L591.7 425.5 L592.9 425.5 L594.1 425.9 L595.3 426.6 L596.5 427.3 L597.7 428.1 L598.9 429.1 L600.1 430.4 L601.3 432.1 L602.5 433.4 L603.7 433.8 L604.9 433.8 L606.1 433.8 L607.3 433.8 L608.5 434.2 L609.7 435.3 L610.9 437.2 L612.1 439.0 L613.3 440.5 L614.5 441.8 L615.7 442.8 L616.9 443.4 L618.1 444.1 L619.3 445.2 L620.5 446.6 L621.7 447.8 L622.9 448.5 L624.1 448.9 L625.3 449.2 L626.5 449.2 L627.7 449.2 L628.9 449.2 L630.1 449.2 L631.3 449.3 L632.5 449.5 L633.7 449.7 L634.9 450.0 L636.1 450.4 L637.3 450.7 L638.5 450.9 L639.7 450.9 L640.9 451.0 L642.1 450.9 L643.3 450.8 L644.5 450.3 L645.7 449.5 L646.9 448.8 L648.1 448.5 L649.3 448.5 L650.5 448.5 L651.7 448.5 L652.9 448.4 L654.1 448.2 L655.3 447.8 L656.5 447.5 L657.7 447.5 L658.9 447.5 L660.1 447.6 L661.3 447.7 L662.5 447.8 L663.7 447.9 L664.9 447.9 L666.1 447.9 L667.3 448.0 L668.5 448.1 L669.7 448.1 L670.9 448.1 L672.1 448.1 L673.3 448.1 L674.5 448.1 L675.7 448.0 L676.9 447.6 L678.1 447.1 L679.3 446.9 L680.5 446.9 L681.7 446.8 L682.9 446.6 L684.1 446.4 L685.3 446.3 L686.5 446.3 L687.7 446.3 L688.9 446.0 L690.1 445.5 L691.3 445.2 L692.5 445.0 L693.7 445.0 L694.9 445.0 L696.1 445.0 L697.3 445.1 L698.5 445.1 L699.7 445.3 L700.9 445.4 L702.1 445.5 L703.3 445.6 L704.5 446.0 L705.7 446.6 L707.0 447.2 L708.2 447.9 L709.4 448.4 L710.6 448.7 L711.8 448.4 L713.0 447.9 L714.2 447.6 L715.4 447.5 L716.6 447.5 L717.8 447.5 L719.0 447.4 L720.2 447.1 L721.4 446.1 L722.6 445.0 L723.8 444.1 L725.0 443.4 L726.2 442.7 L727.4 441.7 L728.6 440.7 L729.8 440.0 L731.0 439.6 L732.2 439.4 L733.4 439.4 L734.6 439.6 L735.8 439.7 L737.0 439.8 L738.2 439.8 L739.4 439.8 L740.6 439.8 L741.8 439.7 L743.0 439.5 L744.2 439.2 L745.4 438.9 L746.6 438.8 L747.8 438.6 L749.0 438.6 L750.2 438.5 L751.4 438.4 L752.6 438.3 L753.8 438.2 L755.0 437.6 L756.2 436.3 L757.4 434.7 L758.6 433.8 L759.8 433.5 L761.0 433.5 L762.2 433.5 L763.4 433.5 L764.6 433.3 L765.8 432.9 L767.0 432.2 L768.2 431.4 L769.4 430.4 L770.6 429.5 L771.8 428.7 L773.0 428.1 L774.2 427.6 L775.4 427.3 L776.6 427.1 L777.8 427.2 L779.0 427.5 L780.2 427.8 L781.4 427.9 L782.6 427.9 L783.8 427.9 L785.0 427.9 L786.2 428.0 L787.4 428.3 L788.6 428.9 L789.8 429.5 L791.0 429.8 L792.2 429.8 L793.4 429.9 L794.6 429.9 L795.8 429.5 L797.0 428.4 L798.2 426.5 L799.4 425.0 L800.6 424.4 L801.8 424.4 L803.0 424.4 L804.2 424.4 L805.4 424.4 L806.6 424.4 L807.8 424.4 L809.0 424.3 L810.2 424.2 L811.4 424.1 L812.6 423.7 L813.8 423.3 L815.0 423.0 L816.2 422.9 L817.4 422.9 L818.6 423.1 L819.8 423.4 L821.0 423.9 L822.2 424.7 L823.4 425.7 L824.6 426.6 L825.8 427.0 L827.0 427.0 L828.2 427.0 L829.4 427.0 L830.6 427.2 L831.8 428.0 L833.0 429.2 L834.2 430.3 L835.4 431.0 L836.6 431.5 L837.8 431.6 L839.0 431.4 L840.2 431.0 L841.4 430.6 L842.6 430.2 L843.8 429.9 L845.0 429.9 L846.2 430.0 L847.4 430.0 L848.6 430.0 L849.8 430.0 L851.0 430.0 L852.2 430.1 L853.4 430.3 L854.6 430.9 L855.8 431.6 L857.0 432.1 L858.2 432.6 L859.4 433.0 L860.6 433.4 L861.8 433.8 L863.0 434.2 L864.2 434.5 L865.4 434.6 L866.6 434.1 L867.8 433.0 L869.0 432.0 L870.2 431.7 L871.4 431.6 L872.6 431.6 L873.8 431.6 L875.0 431.5 L876.2 430.9 L877.4 429.7 L878.6 428.6 L879.8 427.8 L881.0 427.1 L882.2 426.5 L883.4 426.1 L884.6 425.6 L885.8 424.4 L887.0 422.6 L888.2 421.0 L889.4 419.9 L890.6 419.2 L891.8 418.7 L893.0 418.6 L894.2 418.6 L895.4 418.6 L896.7 418.6 L897.9 418.4 L899.1 417.9 L900.3 417.3 L901.5 417.0 L902.7 417.0 L903.9 417.2 L905.1 417.8 L906.3 418.7 L907.5 419.5 L908.7 419.8 L909.9 420.2 L911.1 421.0 L912.3 422.3 L913.5 423.5 L914.7 424.2 L915.9 424.3 L917.1 424.3 L918.3 424.3 L919.5 424.5 L920.7 425.0 L921.9 425.8 L923.1 426.6 L924.3 427.1 L925.5 427.4 L926.7 427.5 L927.9 427.3 L929.1 427.0 L930.3 426.7 L931.5 426.4 L932.7 426.5 L933.9 427.3 L935.1 428.4 L936.3 429.0 L937.5 429.2 L938.7 429.1 L939.9 429.1 L941.1 429.1 L942.3 429.3 L943.5 429.7 L944.7 430.3 L945.9 430.9 L947.1 431.3 L948.3 431.8 L949.5 432.4 L950.7 433.0 L951.9 433.5 L953.1 433.9 L954.3 434.3 L955.5 434.7 L956.7 435.2 L957.9 435.7 L959.1 435.9 L960.3 435.9 L961.5 435.9 L962.7 435.9 L963.9 435.8 L965.1 435.5 L966.3 435.0 L967.5 434.4 L968.7 433.5 L969.9 432.4 L971.1 431.3 L972.3 430.0 L973.5 429.0 L974.7 428.3 L975.9 428.1 L977.1 428.2 L978.3 428.6 L979.5 429.1 L980.7 429.5 L981.9 429.6 L983.1 429.6 L984.3 429.6 L985.5 429.6 L986.7 429.8 L987.9 430.3 L989.1 430.9 L990.3 431.7 L991.5 432.8 L992.7 434.0 L993.9 434.9 L995.1 435.8 L996.3 436.5 L997.5 436.9 L998.7 437.0 L999.9 436.9 L1001.1 436.4 L1002.3 436.0 L1003.5 435.9 L1004.7 435.9 L1005.9 435.9 L1007.1 435.9 L1008.3 435.9 L1009.5 436.0 L1010.7 436.2 L1011.9 436.0 L1013.1 435.4 L1014.3 434.6 L1015.5 434.1 L1016.7 433.9 L1017.9 433.9 L1019.1 434.4 L1020.3 435.2 L1021.5 436.0 L1022.7 436.8 L1023.9 437.6 L1025.1 438.0 L1026.3 438.1 L1027.5 438.1 L1028.7 438.1 L1029.9 438.1 L1031.1 437.9 L1032.3 437.6 L1033.5 437.2 L1034.7 436.8 L1035.9 436.3 L1037.1 435.8 L1038.3 435.5 L1039.5 435.3 L1040.7 435.1 L1041.9 435.0 L1043.1 434.9 L1044.3 434.9 L1045.5 434.8 L1046.7 434.8 L1047.9 434.8 L1049.1 434.8 L1050.3 434.8 L1051.5 434.8 L1052.7 434.7 L1053.9 434.6 L1055.1 434.3 L1056.3 434.1 L1057.5 433.8 L1058.7 433.5 L1059.9 433.2 L1061.1 432.9 L1062.3 432.8 L1063.5 433.2 L1064.7 434.0 L1065.9 434.7 L1067.1 435.0 L1068.3 435.1 L1069.5 435.2 L1070.7 435.2 L1071.9 435.2 L1073.1 435.2 L1074.3 435.2 L1075.5 435.3 L1076.7 435.4 L1077.9 435.5 L1079.1 435.6 L1080.3 435.6 L1081.5 435.5 L1082.7 435.3 L1083.9 435.0 L1085.1 434.6 L1086.4 434.1 L1087.6 433.6 L1088.8 433.0 L1090.0 432.5 L1091.2 432.1 L1092.4 431.9 L1093.6 431.9 L1094.8 431.9 L1096.0 431.9 L1097.2 431.8 L1098.4 431.5 L1099.6 431.1 L1100.8 430.5 L1102.0 429.5 L1103.2 428.5 L1104.4 427.9 L1105.6 427.8 L1106.8 427.9 L1108.0 428.2 L1109.2 428.6 L1110.4 429.0 L1111.6 429.3 L1112.8 429.6 L1114.0 429.7 L1115.2 429.7 L1116.4 429.7 L1117.6 429.7 L1118.8 429.7 L1120.0 429.4 L1121.2 428.5 L1122.4 427.6 L1123.6 427.0 L1124.8 426.8 L1126.0 426.6 L1127.2 426.3 L1128.4 425.8 L1129.6 425.3 L1130.8 424.5 L1132.0 423.7 L1133.2 423.1 L1134.4 422.8 L1135.6 422.5 L1136.8 422.5 L1138.0 422.4 L1139.2 422.4 L1140.4 422.4 L1141.6 422.4 L1142.8 422.3 L1144.0 422.2 L1145.2 422.0 L1146.4 422.0 L1147.6 422.1 L1148.8 422.0 L1150.0 421.6 L1151.2 421.2 L1152.4 420.7 L1153.6 420.2 L1154.8 419.8 L1156.0 419.8 L1157.2 419.9 L1158.4 420.0 L1159.6 420.0 L1160.8 420.0 L1162.0 420.0 L1163.2 420.0 L1164.4 420.1 L1165.6 420.5 L1166.8 420.9 L1168.0 421.4 L1169.2 421.8 L1170.4 422.1 L1171.6 422.1 L1172.8 421.8 L1174.0 421.5 L1175.2 421.0 L1176.4 420.5 L1177.6 419.9 L1178.8 419.2 L1180.0 418.6 L1181.2 418.3 L1182.4 418.2 L1183.6 418.2 L1184.8 418.2 L1186.0 418.2 L1187.2 418.1 L1188.4 417.9 L1189.6 417.6 L1190.8 417.0 L1192.0 416.4 L1193.2 415.8 L1194.4 415.5 L1195.6 415.3 L1196.8 415.5 L1198.0 415.9 L1199.2 416.2 L1200.4 416.3 L1201.6 416.2 L1202.8 416.1 L1204.0 416.0 L1205.2 416.0 L1206.4 416.0 L1207.6 416.0 L1208.8 416.1 L1210.0 416.2 L1211.2 416.3 L1212.4 416.3 L1213.6 415.9 L1214.8 415.4 L1216.0 414.9 L1217.2 414.4 L1218.4 414.0 L1219.6 413.9 L1220.8 413.9 L1222.0 413.9 L1223.2 413.9 L1224.4 413.8 L1225.6 413.8 L1226.8 413.8 L1228.0 413.8 L1229.2 413.8 L1230.4 413.9 L1231.6 414.1 L1232.8 414.5 L1234.0 415.0 L1235.2 415.8 L1236.4 416.7 L1237.6 417.6 L1238.8 418.6 L1240.0 419.4 L1241.2 419.9 L1242.4 420.1 L1243.6 419.9 L1244.8 419.4 L1246.0 418.8 L1247.2 418.3 L1248.4 418.2 L1249.6 418.2" fill="none" stroke="#4572a7" stroke-width="1.1"/>
<path d="M75 410H91.5V455.5H357.6M1248.7 455.5V410H1266" fill="none" stroke="#787878" stroke-width="1.1"/>
<path d="M91.5 410V455.5M1248.7 410V455.5" stroke="#707070" stroke-width="1.6"/>
<path d="M357.6 455.4H1248.7" stroke="#5f7ca6" stroke-width="1.0"/>
<path d="M1248.7 419V455.5" stroke="#4f6c93" stroke-width="1.4"/>
<!-- handles -->
<g stroke="#666" stroke-width="1" fill="#fff">
<rect x="86.5" y="423.7" width="9" height="17.3" rx="3"/>
<path d="M89.6 428V437.2M92.3 428V437.2" stroke-width="1"/>
<rect x="1244.3" y="423.9" width="9" height="17.3" rx="3"/>
<path d="M1247.5 428.3V437.2M1250.2 428.3V437.2" stroke-width="1"/>
</g>
<!-- scrollbar -->
<rect x="75" y="456" width="1191" height="16" fill="url(#tr)"/>
<rect x="91.7" y="456" width="1157.3" height="16.2" rx="2" fill="url(#bg)" stroke="#858585" stroke-width="1"/>
<rect x="74.8" y="456" width="16.4" height="16.2" rx="2" fill="url(#bg)" stroke="#858585" stroke-width="1"/>
<rect x="1249.5" y="456" width="16.2" height="16.2" rx="2" fill="url(#bg)" stroke="#858585" stroke-width="1"/>
<path d="M84.6 461.7V467.7L80.8 464.7Z" fill="#666"/>
<path d="M1256 461.7V467.7L1259.8 464.7Z" fill="#666"/>
<path d="M666.1 460.7V466.9M669.9 460.7V466.9M673.7 460.7V466.9" stroke="#666" stroke-width="1.1"/>
<!-- legend -->
<rect x="380.5" y="485" width="533" height="28" rx="5" fill="#fff" stroke="#909090" stroke-width="1"/>
<g font-size="15" stroke-width="0.2">
<path d="M389.2 500.7H407.7" stroke="#afcc4f" stroke-width="2"/>
<text x="414.1" y="505.3" fill="#23446a" stroke="#23446a" textLength="57" lengthAdjust="spacingAndGlyphs">Portfolio</text>
<path d="M481 500.7H500" stroke="#ba6e44" stroke-width="2"/>
<text x="505.8" y="505.3" fill="#23446a" stroke="#23446a" textLength="37.1" lengthAdjust="spacingAndGlyphs">Index</text>
<path d="M553.3 500.7H571.7" stroke="#ccc" stroke-width="2"/>
<text x="577.5" y="505.3" fill="#ccc" stroke="#ccc" textLength="109.3" lengthAdjust="spacingAndGlyphs">Savings account</text>
<path d="M696.9 500.7H715" stroke="#ccc" stroke-width="2"/>
<text x="721.1" y="505.3" fill="#ccc" stroke="#ccc" textLength="105.5" lengthAdjust="spacingAndGlyphs">Equities market</text>
<rect x="836.9" y="493.2" width="18.2" height="13.5" rx="2" fill="#ccc"/>
<text x="861.4" y="505.3" fill="#ccc" stroke="#ccc" textLength="43" lengthAdjust="spacingAndGlyphs">Events</text>
</g>
</svg>
</body></html>
